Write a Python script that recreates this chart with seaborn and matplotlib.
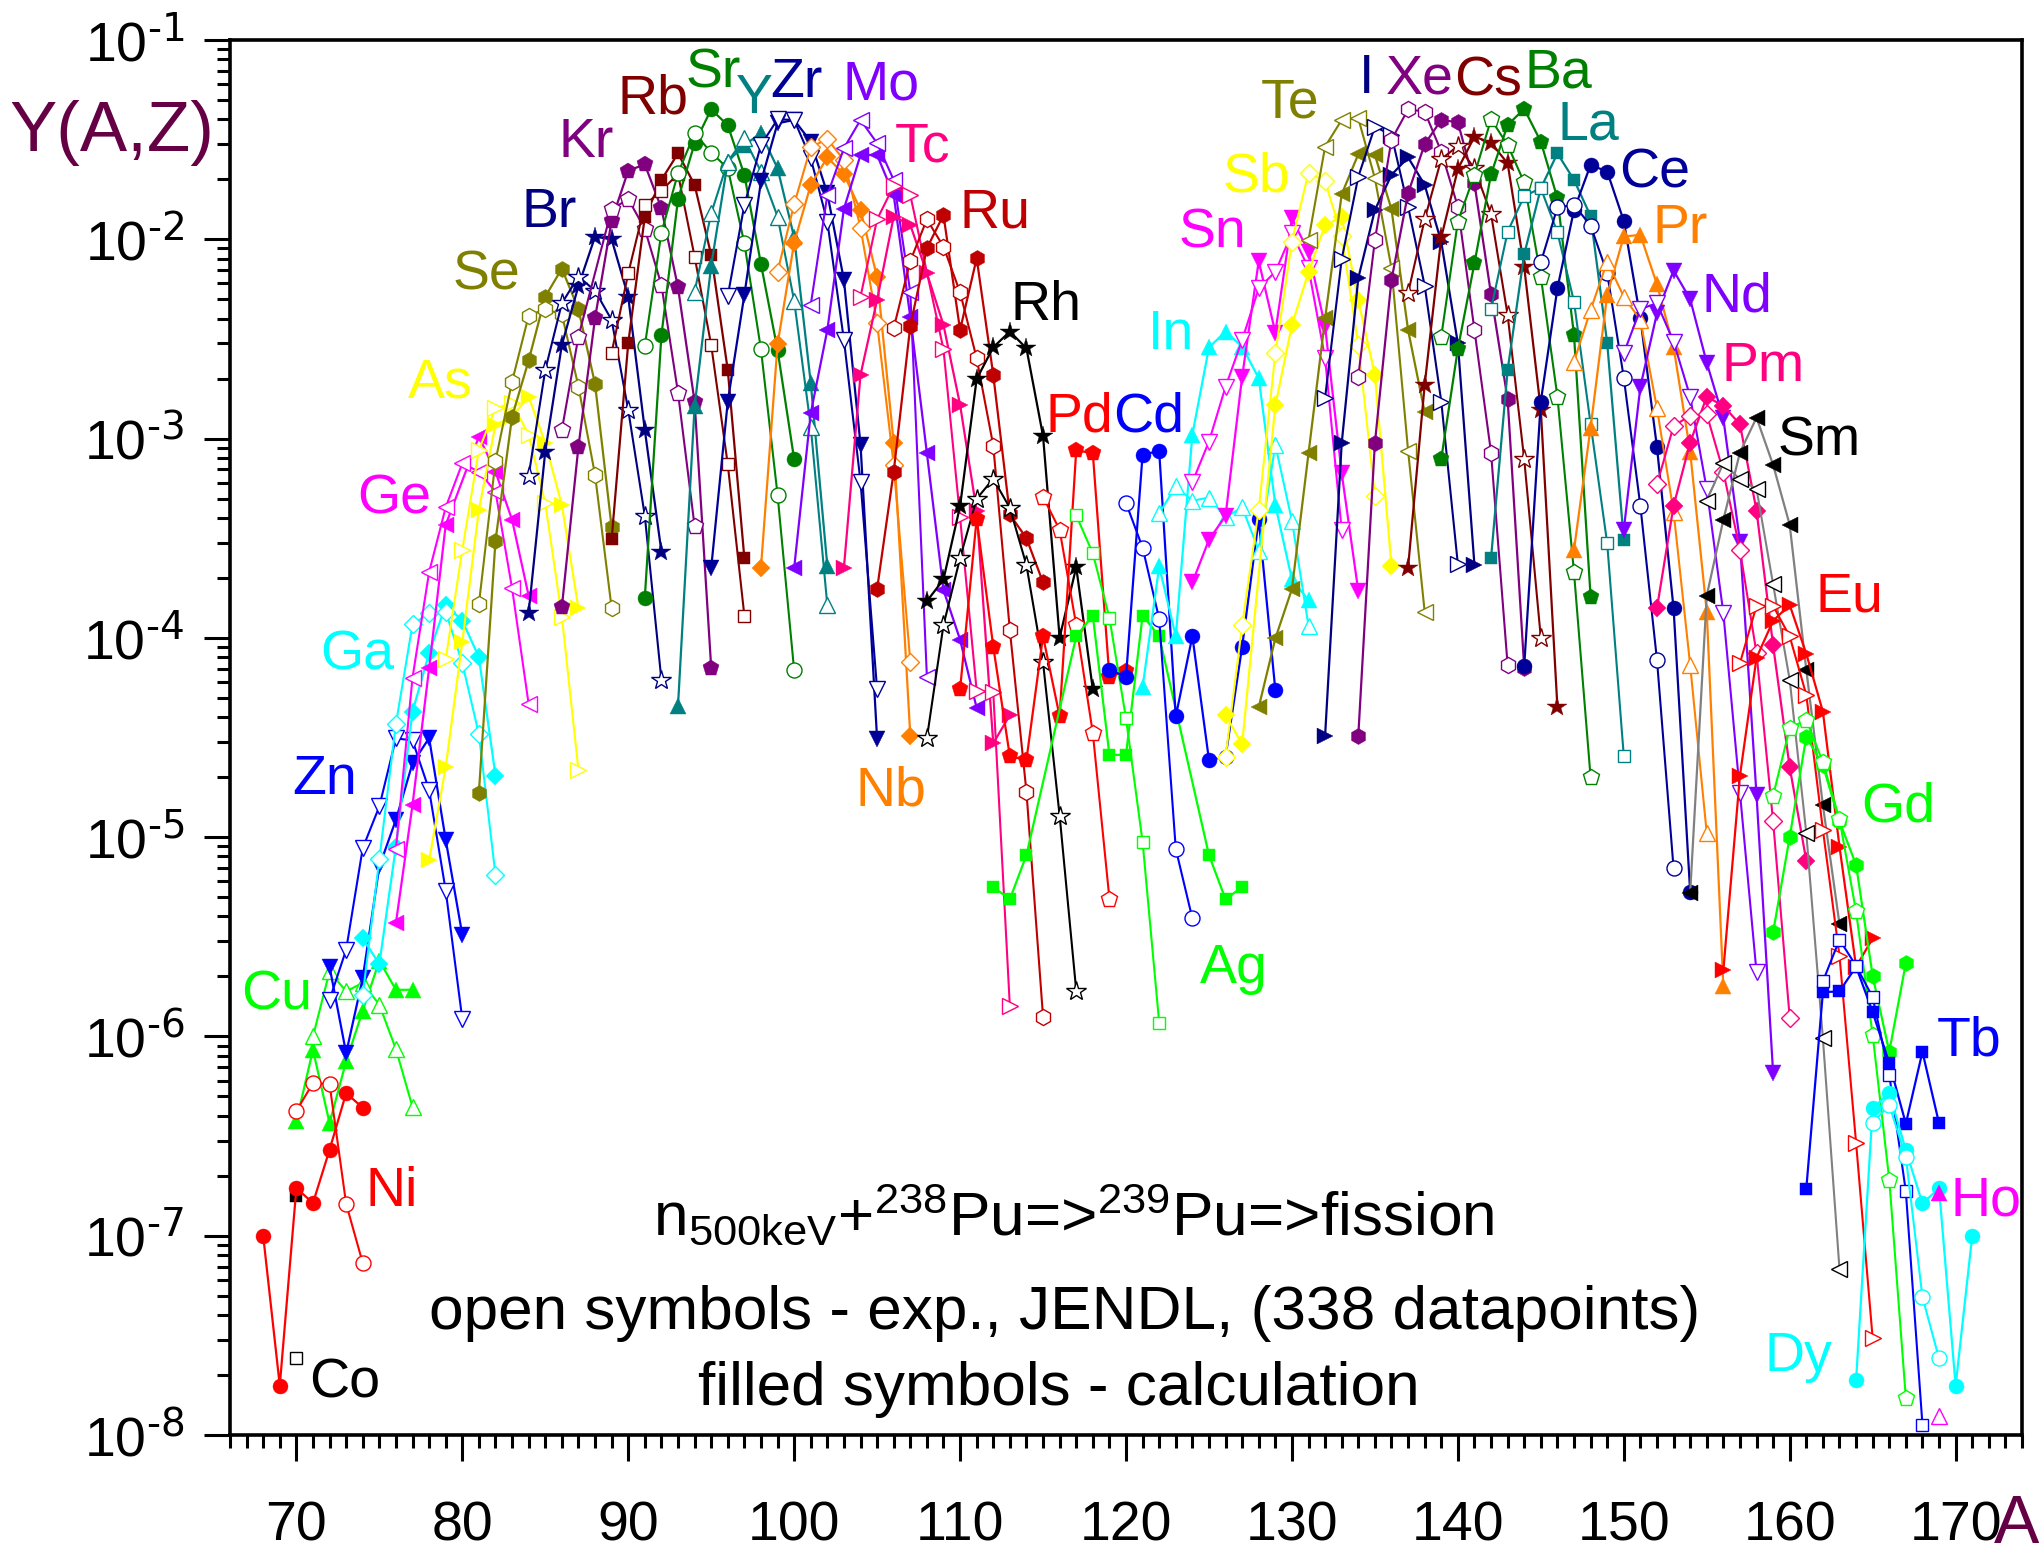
import matplotlib
matplotlib.use("Agg")
import matplotlib.pyplot as plt
import seaborn as sns
import pandas as pd
from matplotlib.ticker import FixedLocator, NullFormatter, LogLocator

# every list holds (A, log10 of the yield)
co_calc = [(70, -6.80)]
co_exp = [(70, -7.613)]
ni_calc = [(68, -7.0), (69, -7.752), (70, -6.761), (71, -6.836), (72, -6.569), (73, -6.284), (74, -6.358)]
ni_exp = [(70, -6.374), (71, -6.234), (72, -6.239), (73, -6.84), (74, -7.137)]
cu_calc = [(70, -6.426), (71, -6.067), (72, -6.435), (73, -6.125), (74, -5.871), (75, -5.62), (76, -5.766), (77, -5.766)]
cu_exp = [(71, -6.0), (72, -5.674), (73, -5.774), (74, -5.731), (75, -5.841), (76, -6.064), (77, -6.354)]
zn_calc = [(72, -5.65), (73, -6.084), (74, -5.707), (75, -5.147), (76, -4.913), (77, -4.629), (78, -4.503), (79, -5.013), (80, -5.49)]
zn_exp = [(72, -5.816), (73, -5.565), (74, -5.055), (75, -4.846), (76, -4.504), (77, -4.515), (78, -4.763), (79, -5.268), (80, -5.913)]
ga_calc = [(74, -5.507), (75, -5.637), (76, -5.047), (77, -4.37), (78, -4.077), (79, -3.835), (80, -3.913), (81, -4.097), (82, -4.691)]
ga_exp = [(74, -5.794), (75, -5.11), (76, -4.431), (77, -3.932), (78, -3.877), (79, -3.869), (80, -4.127), (81, -4.483), (82, -5.19)]
ge_calc = [(76, -5.431), (77, -4.838), (78, -4.153), (79, -3.433), (81, -2.99), (82, -3.166), (83, -3.408), (84, -3.789)]
ge_exp = [(76, -5.06), (77, -4.2), (78, -3.67), (79, -3.345), (80, -3.124), (81, -3.166), (82, -3.266), (83, -3.751), (84, -4.333)]
as_calc = [(78, -5.117), (79, -4.649), (80, -4.02), (81, -3.358), (82, -2.931), (83, -2.89), (84, -2.789), (85, -3.023), (86, -3.333), (87, -3.851)]
as_exp = [(79, -4.107), (80, -3.557), (81, -3.057), (82, -2.848), (83, -2.823), (84, -2.98), (85, -3.324), (86, -3.893), (87, -4.663)]
se_calc = [(81, -4.776), (82, -3.513), (83, -2.89), (84, -2.608), (85, -2.288), (86, -2.147), (87, -2.351), (88, -2.726), (89, -3.445)]
se_exp = [(81, -3.831), (82, -3.112), (83, -2.714), (84, -2.383), (85, -2.351), (86, -2.376), (87, -2.739), (88, -3.182), (89, -3.851)]
br_calc = [(84, -3.873), (85, -3.065), (86, -2.53), (87, -2.234), (88, -1.987), (89, -2.0), (90, -2.288), (91, -2.957), (92, -3.567)]
br_exp = [(84, -3.186), (85, -2.656), (86, -2.321), (87, -2.187), (88, -2.258), (89, -2.405), (90, -2.856), (91, -3.388), (92, -4.211)]
kr_calc = [(86, -3.846), (87, -3.04), (88, -2.396), (89, -1.906), (90, -1.656), (91, -1.624), (92, -1.845), (93, -2.241), (94, -2.815), (95, -4.149)]
kr_exp = [(86, -2.957), (87, -2.488), (89, -1.85), (90, -1.798), (91, -1.948), (92, -2.229), (93, -2.769), (94, -3.44)]
rb_calc = [(89, -3.505), (90, -2.522), (91, -1.886), (92, -1.702), (93, -1.569), (94, -1.727), (95, -2.079), (96, -2.656), (97, -3.6)]
rb_exp = [(89, -2.569), (90, -2.171), (91, -1.828), (92, -1.756), (93, -1.672), (94, -2.087), (95, -2.53), (96, -3.13), (97, -3.889)]
sr_calc = [(91, -3.798), (92, -2.482), (93, -1.799), (94, -1.519), (95, -1.348), (96, -1.428), (97, -1.677), (98, -2.124), (99, -2.555), (100, -3.104)]
sr_exp = [(91, -2.535), (92, -1.966), (93, -1.669), (94, -1.468), (95, -1.565), (96, -1.644), (97, -2.02), (98, -2.552), (99, -3.282), (100, -4.163)]
y_calc = [(93, -4.341), (94, -2.839), (95, -2.132), (96, -1.61), (97, -1.527), (98, -1.468), (99, -1.644), (100, -1.99), (101, -2.72), (102, -3.64)]
y_exp = [(94, -2.263), (95, -1.87), (96, -1.61), (97, -1.494), (98, -1.66), (99, -1.886), (100, -2.308), (101, -2.94), (102, -3.837)]
zr_calc = [(95, -3.65), (96, -2.814), (97, -2.279), (98, -1.71), (99, -1.418), (100, -1.401), (101, -1.51), (102, -1.77), (103, -2.204), (104, -3.03), (105, -4.508)]
zr_exp = [(96, -2.284), (97, -1.828), (98, -1.527), (99, -1.398), (100, -1.401), (101, -1.594), (102, -1.911), (103, -2.505), (104, -3.216), (105, -4.258)]
nb_calc = [(98, -3.647), (99, -2.527), (100, -2.017), (101, -1.727), (102, -1.589), (103, -1.674), (104, -1.853), (105, -2.19), (106, -3.023), (107, -4.491)]
nb_exp = [(99, -2.162), (100, -1.824), (101, -1.538), (102, -1.497), (103, -1.602), (104, -1.942), (105, -2.421), (106, -3.132), (107, -4.119)]
mo_calc = [(100, -3.65), (101, -2.873), (102, -2.455), (103, -1.847), (104, -1.577), (105, -1.577), (106, -1.778), (107, -2.39), (108, -3.073), (109, -3.76), (110, -4.009), (111, -4.352)]
mo_exp = [(101, -2.329), (102, -1.778), (103, -1.543), (104, -1.401), (105, -1.518), (106, -1.702), (107, -2.266), (108, -4.196)]
tc_calc = [(103, -3.647), (104, -2.68), (105, -2.304), (106, -1.886), (107, -1.928), (108, -2.17), (109, -2.43), (110, -2.83), (111, -3.364), (112, -4.529), (113, -4.387)]
tc_exp = [(104, -2.288), (105, -1.9), (106, -1.732), (107, -1.778), (109, -2.552), (110, -3.396), (111, -4.265), (112, -4.273), (113, -5.849)]
ru_calc = [(105, -3.755), (106, -3.166), (107, -2.435), (108, -2.045), (109, -1.878), (110, -2.455), (111, -2.095), (112, -2.68), (113, -3.381), (114, -3.5), (115, -3.722)]
ru_exp = [(106, -2.446), (107, -2.109), (108, -1.9), (109, -2.037), (110, -2.266), (111, -2.597), (112, -3.035), (113, -3.961), (114, -4.772), (115, -5.901)]
rh_calc = [(108, -3.816), (109, -3.707), (110, -3.339), (111, -2.701), (112, -2.542), (113, -2.463), (114, -2.547), (115, -2.987), (116, -3.999), (117, -3.645), (118, -4.258)]
rh_exp = [(108, -4.504), (109, -3.936), (110, -3.6), (111, -3.302), (112, -3.202), (113, -3.348), (114, -3.635), (115, -4.123), (116, -4.892), (117, -5.77)]
pd_calc = [(110, -4.258), (111, -3.402), (112, -4.044), (113, -4.595), (114, -4.612), (115, -3.992), (116, -4.394), (117, -3.059), (118, -3.073), (119, -4.196), (120, -4.165)]
pd_exp = [(115, -3.292), (116, -3.458), (117, -3.936), (118, -4.477), (119, -5.308)]
ag_calc = [(112, -5.25), (113, -5.312), (114, -5.09), (117, -3.992), (118, -3.888), (119, -4.587), (120, -4.587), (121, -3.888), (122, -3.992), (125, -5.09), (126, -5.312), (127, -5.25)]
ag_exp = [(117, -3.385), (118, -3.576), (119, -3.899), (120, -4.404), (121, -5.024), (122, -5.932)]
cd_calc = [(119, -4.159), (120, -4.196), (121, -3.08), (122, -3.063), (123, -4.394), (124, -3.992), (125, -4.612), (126, -4.597), (127, -4.044), (128, -3.406), (129, -4.262)]
cd_exp = [(120, -3.323), (121, -3.547), (122, -3.905), (123, -5.059), (124, -5.408)]
in_calc = [(121, -4.248), (122, -3.641), (123, -3.992), (124, -2.98), (125, -2.543), (126, -2.463), (127, -2.539), (128, -2.697), (129, -3.333), (130, -3.707), (131, -3.811)]
in_exp = [(122, -3.375), (123, -3.24), (124, -3.312), (125, -3.296), (126, -3.396), (127, -3.344), (128, -3.562), (129, -3.032), (130, -3.412), (131, -3.94)]
sn_calc = [(124, -3.722), (125, -3.508), (126, -3.388), (127, -2.689), (128, -2.109), (129, -2.468), (130, -1.895), (131, -2.062), (132, -2.438), (133, -3.174), (134, -3.765)]
sn_exp = [(124, -3.219), (125, -3.015), (126, -2.74), (127, -2.505), (128, -2.246), (129, -2.163), (130, -1.97), (131, -2.145), (132, -2.597), (133, -3.46)]
sb_calc = [(126, -4.387), (127, -4.533), (129, -2.834), (130, -2.43), (131, -2.165), (132, -1.928), (133, -1.889), (134, -2.307), (135, -2.68), (136, -3.64)]
sb_exp = [(126, -4.597), (127, -3.936), (128, -3.356), (129, -2.573), (130, -2.012), (131, -1.665), (132, -1.71), (133, -1.983), (134, -2.53), (135, -3.286)]
te_calc = [(128, -4.348), (129, -4.003), (130, -3.755), (131, -3.074), (132, -2.396), (133, -1.774), (134, -1.573), (135, -1.577), (136, -1.849), (137, -2.455), (138, -2.868)]
te_exp = [(131, -2.003), (132, -1.535), (133, -1.401), (134, -1.393), (135, -1.694), (136, -2.145), (137, -3.06), (138, -3.869)]
i_calc = [(132, -4.49), (133, -3.023), (134, -2.195), (135, -1.853), (136, -1.677), (137, -1.589), (138, -1.727), (139, -2.013), (140, -2.522), (141, -3.634)]
i_exp = [(132, -2.794), (133, -2.1), (134, -1.686), (135, -1.435), (136, -1.477), (137, -1.836), (138, -2.232), (139, -2.814), (140, -3.63)]
xe_calc = [(134, -4.49), (135, -3.023), (136, -2.204), (137, -1.769), (138, -1.523), (139, -1.401), (140, -1.413), (141, -1.719), (142, -2.276), (143, -2.803), (144, -4.15)]
xe_exp = [(134, -2.689), (135, -2.004), (136, -1.501), (137, -1.348), (138, -1.359), (139, -1.56), (140, -1.836), (141, -2.455), (142, -3.07), (143, -4.137)]
cs_calc = [(137, -3.647), (138, -2.731), (139, -1.991), (140, -1.648), (141, -1.485), (142, -1.515), (143, -1.619), (144, -2.14), (145, -2.856), (146, -4.346)]
cs_exp = [(137, -2.271), (138, -1.9), (139, -1.598), (140, -1.532), (141, -1.644), (142, -1.873), (143, -2.38), (144, -3.104), (145, -4.0)]
ba_calc = [(139, -3.102), (140, -2.55), (141, -2.12), (142, -1.674), (143, -1.426), (144, -1.346), (145, -1.51), (146, -1.794), (147, -2.48), (148, -3.793)]
ba_exp = [(139, -2.488), (140, -1.911), (141, -1.677), (142, -1.398), (143, -1.527), (144, -1.715), (145, -2.187), (146, -2.789), (147, -3.672), (148, -4.7)]
la_calc = [(142, -3.6), (143, -2.656), (144, -2.075), (145, -1.744), (146, -1.569), (147, -1.702), (148, -1.883), (149, -2.52), (150, -3.508)]
la_exp = [(142, -2.351), (143, -1.962), (144, -1.783), (145, -1.744), (146, -1.965), (147, -2.313), (148, -2.926), (149, -3.525), (150, -4.592)]
ce_calc = [(144, -4.14), (145, -2.814), (146, -2.246), (147, -1.853), (148, -1.627), (149, -1.66), (150, -1.908), (151, -2.396), (152, -3.043), (153, -3.851), (154, -5.273)]
ce_exp = [(145, -2.116), (146, -1.84), (147, -1.828), (148, -1.931), (149, -2.17), (150, -2.694), (151, -3.338), (152, -4.11), (153, -5.155)]
pr_calc = [(147, -3.558), (148, -2.945), (149, -2.279), (150, -1.986), (151, -1.978), (152, -2.226), (153, -2.54), (154, -3.065), (155, -3.868), (156, -5.749)]
pr_exp = [(147, -2.614), (148, -2.355), (149, -2.112), (150, -2.288), (151, -2.405), (152, -2.848), (153, -3.366), (154, -4.135), (155, -4.98)]
nd_calc = [(150, -3.458), (151, -2.74), (152, -2.371), (153, -2.157), (154, -2.3), (155, -2.619), (156, -2.898), (157, -3.517), (158, -4.788), (159, -6.183)]
nd_exp = [(150, -2.572), (151, -2.35), (152, -2.321), (153, -2.513), (154, -2.789), (155, -3.254), (156, -3.875), (157, -4.776), (158, -5.678)]
pm_calc = [(152, -3.851), (153, -3.338), (154, -3.02), (155, -2.79), (156, -2.836), (157, -2.928), (158, -3.361), (159, -4.038), (160, -4.649), (161, -5.118)]
pm_exp = [(152, -3.23), (153, -2.937), (154, -2.885), (155, -2.878), (156, -3.166), (157, -3.558), (158, -4.077), (159, -4.92), (160, -5.906)]
sm_calc = [(154, -5.281), (155, -3.789), (156, -3.408), (157, -3.07), (158, -2.895), (159, -3.132), (160, -3.433), (161, -4.16), (162, -4.84), (163, -5.436)]
sm_exp = [(155, -3.311), (156, -3.124), (157, -3.204), (158, -3.253), (159, -3.731), (160, -4.211), (161, -4.98), (162, -6.01), (163, -7.167)]
eu_calc = [(156, -5.669), (157, -4.692), (158, -4.1), (159, -3.914), (160, -3.835), (161, -4.08), (162, -4.37), (163, -5.047), (164, -5.65), (165, -5.508)]
eu_exp = [(157, -4.127), (158, -3.839), (159, -3.839), (160, -3.993), (161, -4.286), (162, -4.963), (163, -5.595), (164, -6.533), (165, -7.515)]
gd_calc = [(159, -5.477), (160, -4.999), (161, -4.495), (162, -4.64), (163, -4.92), (164, -5.139), (165, -5.696), (166, -6.077), (167, -5.632)]
gd_exp = [(159, -4.792), (160, -4.453), (161, -4.411), (162, -4.624), (163, -4.91), (164, -5.373), (165, -5.993), (166, -6.718), (167, -7.815)]
tb_calc = [(161, -6.764), (162, -5.778), (163, -5.774), (164, -5.65), (165, -5.878), (166, -6.134), (167, -6.438), (168, -6.077), (169, -6.436)]
tb_exp = [(162, -5.724), (163, -5.514), (164, -5.646), (165, -5.803), (166, -6.192), (167, -6.778), (168, -7.948)]
dy_calc = [(164, -7.726), (165, -6.361), (166, -6.283), (167, -6.571), (168, -6.838), (169, -6.762), (170, -7.753), (171, -7.0)]
dy_exp = [(165, -6.433), (166, -6.345), (167, -6.604), (168, -7.308), (169, -7.616)]
ho_calc = [(169, -6.788)]
ho_exp = [(169, -7.906)]

x_ticks = [70, 80, 90, 100, 110, 120, 130, 140, 150, 160, 170]
y_ticks = [1e-8, 1e-7, 1e-6, 1e-5, 1e-4, 1e-3, 1e-2, 1e-1]
y_tick_labels = [r"10$^{\text{-8}}$", r"10$^{\text{-7}}$", r"10$^{\text{-6}}$", r"10$^{\text{-5}}$",
                 r"10$^{\text{-4}}$", r"10$^{\text{-3}}$", r"10$^{\text{-2}}$", r"10$^{\text{-1}}$"]

NAVY = "#000080"
NAVY2 = "#000099"
VIOLET = "#8000FF"
PINK = "#FF0080"
ORANGE = "#FF8000"
LIME = "#00FF00"
CYAN = "#00FFFF"

# name, calculated, experimental, colour, filled marker, open marker
elements = [
    ("Co", co_calc, co_exp, "black", "s", "s"),
    ("Cu", cu_calc, cu_exp, LIME, "^", "^"),
    ("Ni", ni_calc, ni_exp, "red", "o", "o"),
    ("Zn", zn_calc, zn_exp, "blue", "v", "v"),
    ("Ga", ga_calc, ga_exp, CYAN, "D", "D"),
    ("Ge", ge_calc, ge_exp, "magenta", "<", "<"),
    ("As", as_calc, as_exp, "yellow", ">", ">"),
    ("Se", se_calc, se_exp, "olive", "h", "h"),
    ("Br", br_calc, br_exp, NAVY, "*", "*"),
    ("Kr", kr_calc, kr_exp, "purple", "p", "p"),
    ("Rb", rb_calc, rb_exp, "maroon", "s", "s"),
    ("Sr", sr_calc, sr_exp, "green", "o", "o"),
    ("Y", y_calc, y_exp, "teal", "^", "^"),
    ("Zr", zr_calc, zr_exp, NAVY2, "v", "v"),
    ("Nb", nb_calc, nb_exp, ORANGE, "D", "D"),
    ("Mo", mo_calc, mo_exp, VIOLET, "<", "<"),
    ("Tc", tc_calc, tc_exp, PINK, ">", ">"),
    ("Ru", ru_calc, ru_exp, "#C00000", "h", "h"),
    ("Rh", rh_calc, rh_exp, "black", "*", "*"),
    ("Pd", pd_calc, pd_exp, "red", "p", "p"),
    ("Ag", ag_calc, ag_exp, LIME, "s", "s"),
    ("Cd", cd_calc, cd_exp, "blue", "o", "o"),
    ("In", in_calc, in_exp, CYAN, "^", "^"),
    ("Sn", sn_calc, sn_exp, "magenta", "v", "v"),
    ("Sb", sb_calc, sb_exp, "yellow", "D", "D"),
    ("Te", te_calc, te_exp, "olive", "<", "<"),
    ("I", i_calc, i_exp, NAVY, ">", ">"),
    ("Xe", xe_calc, xe_exp, "purple", "h", "h"),
    ("Cs", cs_calc, cs_exp, "maroon", "*", "*"),
    ("Ba", ba_calc, ba_exp, "green", "p", "p"),
    ("La", la_calc, la_exp, "teal", "s", "s"),
    ("Ce", ce_calc, ce_exp, NAVY2, "o", "o"),
    ("Pr", pr_calc, pr_exp, ORANGE, "^", "^"),
    ("Nd", nd_calc, nd_exp, VIOLET, "v", "v"),
    ("Pm", pm_calc, pm_exp, PINK, "D", "D"),
    ("Sm", sm_calc, sm_exp, "black", "<", "<"),
    ("Eu", eu_calc, eu_exp, "red", ">", ">"),
    ("Gd", gd_calc, gd_exp, LIME, "h", "p"),
    ("Tb", tb_calc, tb_exp, "blue", "s", "s"),
    ("Dy", dy_calc, dy_exp, CYAN, "o", "o"),
    ("Ho", ho_calc, ho_exp, "magenta", "^", "^"),
]

# label centres in pixels of the full size picture
label_pos = {
    "Co": (345, 1384), "Ni": (392, 1192), "Cu": (277, 995), "Zn": (325, 780), "Ga": (357, 655),
    "Ge": (394, 499), "As": (440, 383), "Se": (486, 275), "Br": (549, 213), "Kr": (586, 143),
    "Rb": (653, 99), "Sr": (713, 73), "Y": (754, 99), "Zr": (796, 83), "Nb": (891, 792),
    "Mo": (881, 86), "Tc": (923, 147), "Ru": (995, 213), "Rh": (1046, 306), "Pd": (1079, 417),
    "Ag": (1234, 969), "Cd": (1149, 417), "In": (1171, 335), "Sn": (1212, 233), "Sb": (1256, 177),
    "Te": (1290, 103), "I": (1367, 79), "Xe": (1420, 79), "Cs": (1488, 81), "Ba": (1558, 73),
    "La": (1588, 125), "Ce": (1655, 174), "Pr": (1680, 229), "Nd": (1737, 297), "Pm": (1763, 367),
    "Sm": (1819, 441), "Eu": (1849, 598), "Gd": (1898, 808), "Tb": (1969, 1041), "Dy": (1798, 1357),
    "Ho": (1986, 1201),
}

sizes = {"o": 10.8, "s": 8.6, "D": 8.8, "^": 11.5, "v": 11.5, "<": 11.5, ">": 11.5, "h": 11.6, "p": 12, "*": 14.5}

sns.set_theme(style="white")
plt.rcParams["font.family"] = ["Liberation Sans", "DejaVu Sans"]
plt.rcParams["mathtext.default"] = "regular"

W, H = 2043, 1550
fig = plt.figure(figsize=(W / 100, H / 100), dpi=100, facecolor="white")
ax = fig.add_axes([230 / W, 1 - 1435 / H, (2022 - 230) / W, (1435 - 40) / H])
ax.set_yscale("log")


def draw(points, colour, marker, filled):
    df = pd.DataFrame(points, columns=["a", "logy"])
    df["y"] = 10.0 ** df["logy"]
    line = "#808080" if colour == "black" and marker == "<" else colour
    sns.lineplot(data=df, x="a", y="y", ax=ax, sort=False, estimator=None, errorbar=None,
                 color=line, linewidth=1.6 if filled else 1.5, marker=marker, markersize=sizes[marker],
                 markerfacecolor=colour if filled else "white", markeredgecolor=colour,
                 markeredgewidth=0.3 if filled else 1.0, clip_on=False, legend=False)


for name, calc, exp, colour, mk_calc, mk_exp in elements:
    draw(calc, colour, mk_calc, True)
    draw(exp, colour, mk_exp, False)

ax.set_xlim(66, 174)
ax.set_ylim(1e-8, 1e-1)
ax.set_xlabel("")
ax.set_ylabel("")

ax.xaxis.set_major_locator(FixedLocator(x_ticks))
ax.xaxis.set_minor_locator(FixedLocator(list(range(66, 175))))
ax.xaxis.set_minor_formatter(NullFormatter())
ax.set_xticklabels([str(t) for t in x_ticks])
ax.set_yticks(y_ticks)
ax.set_yticklabels(y_tick_labels)
ax.yaxis.set_minor_locator(LogLocator(base=10, subs=range(2, 10), numticks=20))
ax.yaxis.set_minor_formatter(NullFormatter())

ax.tick_params(axis="both", which="major", direction="out", length=19, width=2.2, labelsize=40, colors="black",
               bottom=True, left=True)
ax.tick_params(axis="both", which="minor", direction="out", length=9.5, width=2.2, colors="black", bottom=True, left=True)
ax.tick_params(axis="x", which="major", pad=28)
ax.tick_params(axis="y", which="major", pad=14)
for s in ax.spines.values():
    s.set_linewidth(2.6)
    s.set_color("black")
    s.set_visible(True)


def put(text, x, y, **kw):
    fig.text(x / W, 1 - y / H, text, ha="center", va="center", **kw)


for name, calc, exp, colour, mk_calc, mk_exp in elements:
    put(name, label_pos[name][0], label_pos[name][1], color=colour, fontsize=40)

put("Y(A,Z)", 112, 133, color="#660044", fontsize=51)
put("A", 2017, 1525, color="#660044", fontsize=49)
put("n$_{500keV}$+$^{238}$Pu=>$^{239}$Pu=>fission", 1074, 1216, color="black", fontsize=44.7)
put("open symbols - exp., JENDL, (338 datapoints)", 1065, 1313, color="black", fontsize=44.7)
put("filled symbols - calculation", 1059, 1389, color="black", fontsize=44.7)

fig.savefig("out.png", dpi=100)
